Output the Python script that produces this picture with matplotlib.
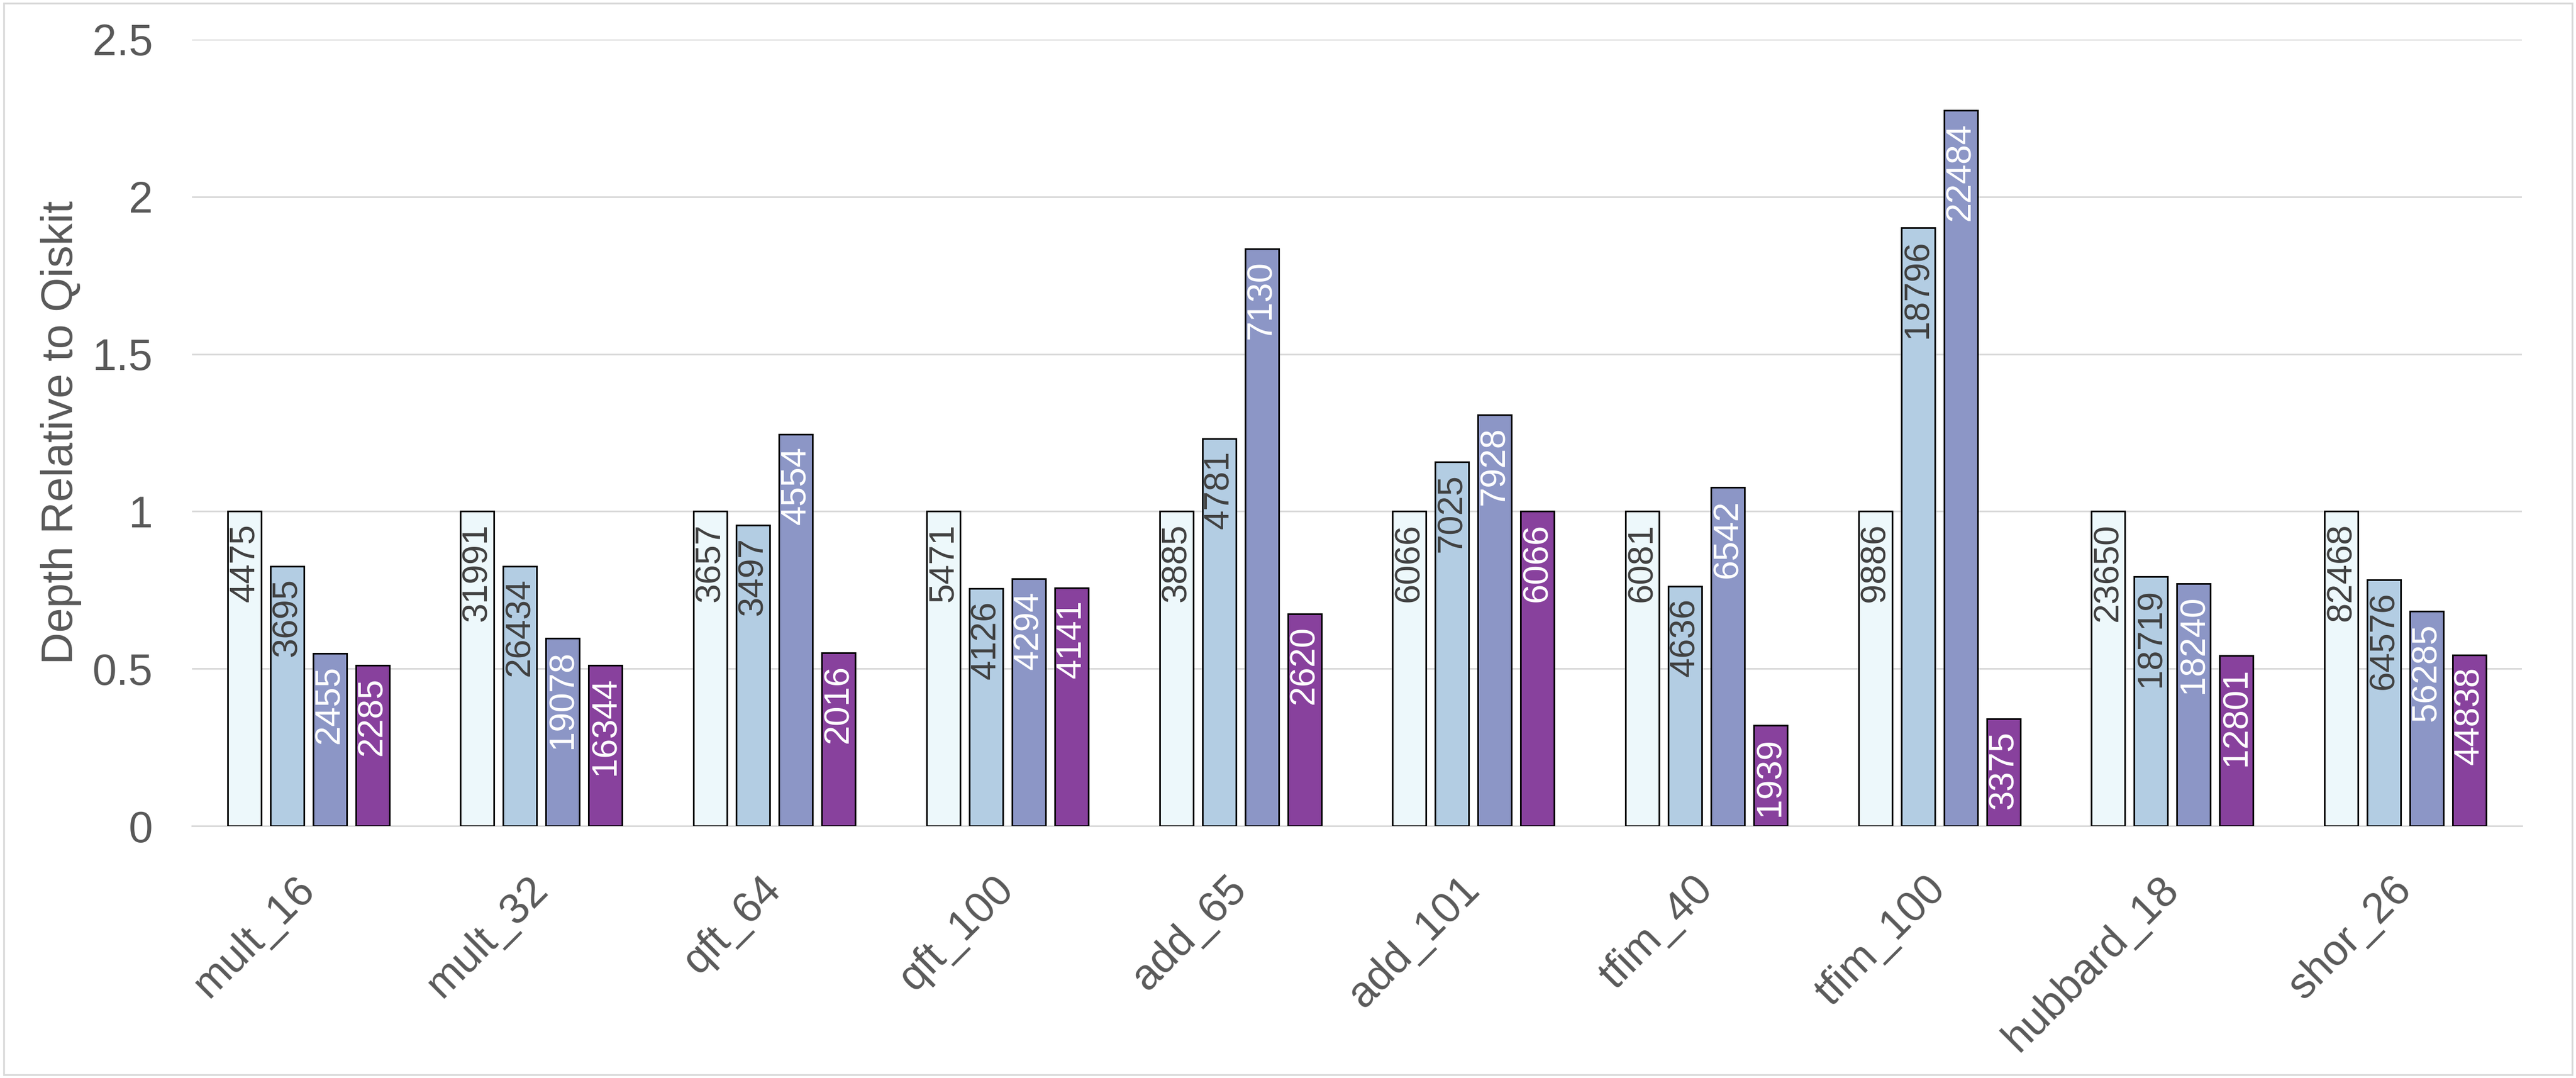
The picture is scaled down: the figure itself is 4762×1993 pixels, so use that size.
import matplotlib
matplotlib.use('Agg')
import numpy as np
from matplotlib import pyplot as plt
from matplotlib.patches import Rectangle

# circuits on the x axis
circuits = ['mult_16', 'mult_32', 'qft_64', 'qft_100', 'add_65', 'add_101',
            'tfim_40', 'tfim_100', 'hubbard_18', 'shor_26']

# depth relative to qiskit (bar heights), one list per compiler
rel_a = [1.0, 1.0, 1.0, 1.0, 1.0, 1.0, 1.0, 1.0, 1.0, 1.0]
rel_b = [0.826, 0.826, 0.956, 0.754, 1.231, 1.158, 0.762, 1.901, 0.792, 0.783]
rel_c = [0.549, 0.596, 1.245, 0.785, 1.835, 1.307, 1.076, 2.274, 0.771, 0.683]
rel_d = [0.511, 0.511, 0.551, 0.757, 0.674, 1.000, 0.319, 0.341, 0.541, 0.544]

# absolute depths written on the bars
depth_a = [4475, 31991, 3657, 5471, 3885, 6066, 6081, 9886, 23650, 82468]
depth_b = [3695, 26434, 3497, 4126, 4781, 7025, 4636, 18796, 18719, 64576]
depth_c = [2455, 19078, 4554, 4294, 7130, 7928, 6542, 22484, 18240, 56285]
depth_d = [2285, 16344, 2016, 4141, 2620, 6066, 1939, 3375, 12801, 44838]

yticks = [0, 0.5, 1, 1.5, 2, 2.5]
ytick_labels = ['0', '0.5', '1', '1.5', '2', '2.5']

colors = ['#EDF8FB', '#B3CDE3', '#8C96C6', '#88419D']
text_colors = ['#404040', '#404040', 'white', 'white']

plt.rcParams['font.family'] = ['Liberation Sans', 'DejaVu Sans']

fig = plt.figure(figsize=(23.81, 9.965), dpi=200)
ax = fig.add_axes([0.0745, 0.2338, 0.9045, 0.7296])

x = np.arange(len(circuits))
pitch = 0.1834
width = 0.144
heights = [rel_a, rel_b, rel_c, rel_d]
labels = [depth_a, depth_b, depth_c, depth_d]

ax.set_axisbelow(True)
for j in range(4):
    xs = x + (j - 1.5) * pitch
    ax.bar(xs, heights[j], width=width, color=colors[j], edgecolor='black',
           linewidth=1.1, zorder=3)
    for xi, h, lab in zip(xs, heights[j], labels[j]):
        ax.annotate(str(lab), (xi, h), xytext=(0, -8), textcoords='offset points',
                    rotation=90, ha='center', va='top', fontsize=23.5,
                    color=text_colors[j], zorder=4)

ax.set_xlim(-0.5, len(circuits) - 0.5)
ax.set_ylim(0, 2.5)
ax.set_yticks(yticks)
ax.set_yticklabels(ytick_labels)
ax.yaxis.grid(True, color='#D9D9D9', linewidth=1.1)
ax.tick_params(axis='y', length=0, pad=26, labelsize=29, labelcolor='#595959')
ax.set_xticks(x)
ax.set_xticklabels(circuits, rotation=45, ha='right', va='center',
                   rotation_mode='anchor')
ax.tick_params(axis='x', length=0, pad=38, labelsize=28.5, labelcolor='#595959')

for side in ['left', 'right', 'top']:
    ax.spines[side].set_visible(False)
ax.spines['bottom'].set_color('#D9D9D9')
ax.spines['bottom'].set_linewidth(1.1)

ax.set_ylabel('Depth Relative to Qiskit', fontsize=29.5, color='#595959', labelpad=7)

# light frame around the whole chart
fig.patches.append(Rectangle((0.0015, 0.003), 0.997, 0.994, transform=fig.transFigure,
                             fill=False, edgecolor='#D9D9D9', linewidth=1.2))

fig.savefig('out.png', dpi=200, facecolor='white')
